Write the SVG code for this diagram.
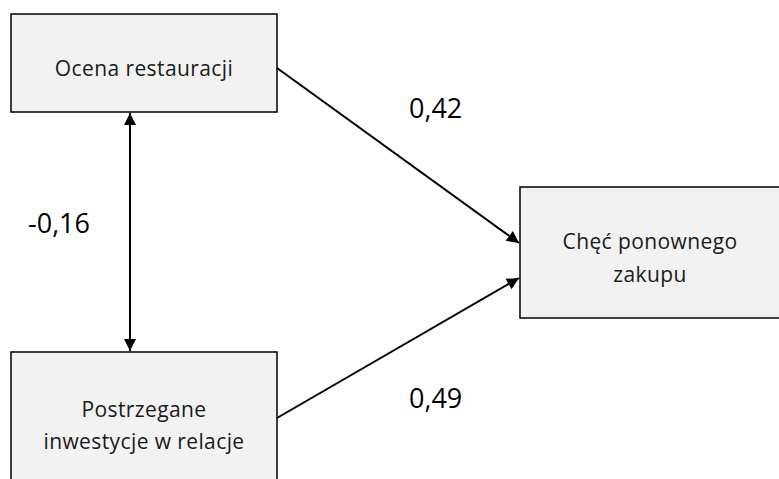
<svg xmlns="http://www.w3.org/2000/svg" width="779" height="479" viewBox="0 0 779 479">
<style>
.box{fill:#f2f2f2;stroke:#000;stroke-width:1.5}
.t{font-family:"Open Sans","Liberation Sans",sans-serif;font-size:21px;fill:#1a1a1a;text-anchor:middle;letter-spacing:0.4px}
.n{font-family:"Open Sans","Liberation Sans",sans-serif;font-size:27px;fill:#000}
.c{stroke:#000;stroke-width:2;fill:none}
</style>
<defs>
<marker id="a" viewBox="0 0 10 10" refX="10" refY="5" markerWidth="13" markerHeight="12" markerUnits="userSpaceOnUse" orient="auto-start-reverse">
<path d="M0,0 L10,5 L0,10 Z" fill="#000"/>
</marker>
</defs>
<g id="n1"><rect class="box" x="11" y="14" width="266" height="98"/><text class="t" x="144" y="76">Ocena restauracji</text></g>
<g id="n2"><rect class="box" x="11" y="352" width="266" height="140"/><text class="t" x="144" y="417">Postrzegane</text><text class="t" x="144" y="449">inwestycje w relacje</text></g>
<g id="n3"><rect class="box" x="520" y="187" width="270" height="131"/><text class="t" x="650" y="249">Chęć ponownego</text><text class="t" x="650" y="282">zakupu</text></g>
<g id="connectors">
<line class="c" x1="130" y1="113" x2="130" y2="351" marker-start="url(#a)" marker-end="url(#a)"/>
<line class="c" x1="277" y1="68" x2="519" y2="243" marker-end="url(#a)"/>
<line class="c" x1="277" y1="418" x2="519" y2="278" marker-end="url(#a)"/>
</g>
<text class="n" x="409" y="118">0,42</text>
<text class="n" x="28" y="233">-0,16</text>
<text class="n" x="409" y="408">0,49</text>
</svg>
